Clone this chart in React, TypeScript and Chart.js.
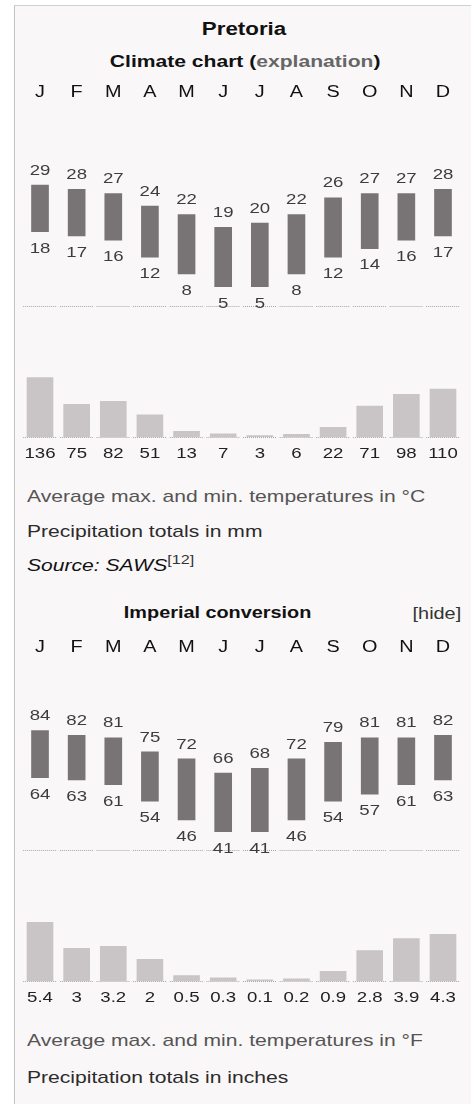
import React, { useEffect, useRef } from "react";
import { Chart, registerables } from "chart.js";

Chart.register(...registerables);

// ---------------- Data ----------------
const MONTHS = ["J", "F", "M", "A", "M", "J", "J", "A", "S", "O", "N", "D"];
const MAX_C = [29, 28, 27, 24, 22, 19, 20, 22, 26, 27, 27, 28];
const MIN_C = [18, 17, 16, 12, 8, 5, 5, 8, 12, 14, 16, 17];
const PRECIP_MM = [136, 75, 82, 51, 13, 7, 3, 6, 22, 71, 98, 110];
const MAX_F = [84, 82, 81, 75, 72, 66, 68, 72, 79, 81, 81, 82];
const MIN_F = [64, 63, 61, 54, 46, 41, 41, 46, 54, 57, 61, 63];
const PRECIP_IN = [5.4, 3, 3.2, 2, 0.5, 0.3, 0.1, 0.2, 0.9, 2.8, 3.9, 4.3];

// ---------------- Style / layout ----------------
const W = 471;
const H_PAGE = 1104;
const PLOT_LEFT = 21.7;
const PLOT_RIGHT = 461.3;
const SX = 1.24; // horizontal text stretch of the reference
const FONT = '"Liberation Sans", Arial, Helvetica, sans-serif';
const TEMP_BAR = "#787374";
const PRECIP_BAR = "#c9c5c6";
const DOT_COLOR = "#a6a6a6";
const TEMP_LABEL = "#3d3d3d";
const PRECIP_LABEL = "#222222";

function stretchedText(
  ctx: CanvasRenderingContext2D,
  text: string,
  x: number,
  cy: number,
  size: number,
  color: string,
  weight = "normal"
) {
  ctx.save();
  ctx.font = `${weight} ${size}px ${FONT}`;
  ctx.fillStyle = color;
  ctx.textAlign = "center";
  ctx.textBaseline = "alphabetic";
  ctx.translate(x, cy + 0.358 * size);
  ctx.scale(SX, 1);
  ctx.fillText(text, 0, 0);
  ctx.restore();
}

function dottedBase(chart: any) {
  const { ctx, chartArea } = chart;
  const n = MONTHS.length;
  const w = (chartArea.right - chartArea.left) / n;
  const y = Math.round(chartArea.bottom) + 0.5;
  ctx.save();
  ctx.strokeStyle = DOT_COLOR;
  ctx.lineWidth = 1;
  ctx.setLineDash([1, 1]);
  for (let i = 0; i < n; i++) {
    const x0 = chartArea.left + i * w + 1.5;
    const x1 = chartArea.left + (i + 1) * w - 1.5;
    ctx.beginPath();
    ctx.moveTo(x0, y);
    ctx.lineTo(x1, y);
    ctx.stroke();
  }
  ctx.restore();
}

type TempSpec = {
  canvasTop: number;
  height: number;
  areaTop: number;
  areaBottom: number;
  refValue: number;
  refY: number;
  pxPerUnit: number;
  monthY: number;
  max: number[];
  min: number[];
};

function TempChart(p: TempSpec) {
  const ref = useRef<HTMLCanvasElement>(null);
  useEffect(() => {
    const canvas = ref.current!;
    const yMax = p.refValue + (p.refY - p.areaTop) / p.pxPerUnit;
    const yMin = p.refValue - (p.areaBottom - p.refY) / p.pxPerUnit;
    const plugin = {
      id: "tempLabels",
      beforeDatasetsDraw(chart: any) {
        dottedBase(chart);
      },
      afterDatasetsDraw(chart: any) {
        const ctx = chart.ctx;
        const xs = chart.scales.x;
        const ys = chart.scales.y;
        MONTHS.forEach((m, i) => {
          const x = xs.getPixelForValue(i);
          stretchedText(ctx, m, x, p.monthY - p.canvasTop, 16, "#111111");
          stretchedText(ctx, String(p.max[i]), x, ys.getPixelForValue(p.max[i]) - 15.7, 15, TEMP_LABEL);
          stretchedText(ctx, String(p.min[i]), x, ys.getPixelForValue(p.min[i]) + 15.5, 15, TEMP_LABEL);
        });
      },
    };
    const chart = new Chart(canvas, {
      type: "bar",
      data: {
        labels: MONTHS,
        datasets: [
          {
            data: p.max.map((v, i) => [p.min[i], v]) as any,
            backgroundColor: TEMP_BAR,
            barThickness: 17,
            borderWidth: 0,
            borderSkipped: false,
          },
        ],
      },
      options: {
        animation: false,
        responsive: false,
        events: [],
        layout: {
          padding: {
            left: PLOT_LEFT,
            right: W - PLOT_RIGHT,
            top: p.areaTop - p.canvasTop,
            bottom: p.canvasTop + p.height - p.areaBottom,
          },
        },
        plugins: { legend: { display: false }, tooltip: { enabled: false } },
        scales: {
          x: { display: false, offset: true },
          y: { display: false, min: yMin, max: yMax, bounds: "data" },
        },
      },
      plugins: [plugin],
    });
    return () => chart.destroy();
  }, []);
  return (
    <canvas
      ref={ref}
      width={W}
      height={p.height}
      style={{ position: "absolute", left: 0, top: p.canvasTop, width: W, height: p.height }}
    />
  );
}

type PrecipSpec = {
  canvasTop: number;
  height: number;
  areaTop: number;
  areaBottom: number;
  pxPerUnit: number;
  values: number[];
  labelOffset: number;
};

function PrecipChart(p: PrecipSpec) {
  const ref = useRef<HTMLCanvasElement>(null);
  useEffect(() => {
    const canvas = ref.current!;
    const yMax = (p.areaBottom - p.areaTop) / p.pxPerUnit;
    const plugin = {
      id: "precipLabels",
      beforeDatasetsDraw(chart: any) {
        dottedBase(chart);
      },
      afterDatasetsDraw(chart: any) {
        const ctx = chart.ctx;
        const xs = chart.scales.x;
        const ys = chart.scales.y;
        p.values.forEach((v, i) => {
          const x = xs.getPixelForValue(i);
          stretchedText(ctx, String(v), x, ys.getPixelForValue(0) + p.labelOffset, 15, PRECIP_LABEL);
        });
      },
    };
    const chart = new Chart(canvas, {
      type: "bar",
      data: {
        labels: MONTHS,
        datasets: [
          {
            data: p.values,
            backgroundColor: PRECIP_BAR,
            barThickness: 26,
            borderWidth: 0,
          },
        ],
      },
      options: {
        animation: false,
        responsive: false,
        events: [],
        layout: {
          padding: {
            left: PLOT_LEFT,
            right: W - PLOT_RIGHT,
            top: p.areaTop - p.canvasTop,
            bottom: p.canvasTop + p.height - p.areaBottom,
          },
        },
        plugins: { legend: { display: false }, tooltip: { enabled: false } },
        scales: {
          x: { display: false, offset: true },
          y: { display: false, min: 0, max: yMax, bounds: "data" },
        },
      },
      plugins: [plugin],
    });
    return () => chart.destroy();
  }, []);
  return (
    <canvas
      ref={ref}
      width={W}
      height={p.height}
      style={{ position: "absolute", left: 0, top: p.canvasTop, width: W, height: p.height }}
    />
  );
}

function Txt(props: {
  x: number;
  cy: number;
  size: number;
  align?: "left" | "center" | "right";
  weight?: number;
  italic?: boolean;
  color?: string;
  children: React.ReactNode;
}) {
  const { x, cy, size, align = "left", weight = 400, italic = false, color = "#202122" } = props;
  const style: React.CSSProperties = {
    position: "absolute",
    top: cy - 0.4885 * size,
    whiteSpace: "nowrap",
    fontSize: size,
    lineHeight: `${size}px`,
    fontWeight: weight,
    fontStyle: italic ? "italic" : "normal",
    color,
  };
  if (align === "center") {
    style.left = x - 250;
    style.width = 500;
    style.textAlign = "center";
  } else if (align === "right") {
    style.right = W - x;
    style.textAlign = "right";
  } else {
    style.left = x;
  }
  const origin = align === "center" ? "50% 50%" : align === "right" ? "100% 50%" : "0 50%";
  return (
    <div style={style}>
      <span style={{ display: "inline-block", transform: `scaleX(${SX})`, transformOrigin: origin }}>
        {props.children}
      </span>
    </div>
  );
}

export default function App() {
  return (
    <div
      style={{
        position: "absolute",
        left: 0,
        top: 0,
        width: W,
        height: H_PAGE,
        overflow: "hidden",
        background: "#ffffff",
        fontFamily: FONT,
      }}
    >
      <div
        style={{
          position: "absolute",
          left: 14,
          top: 5,
          width: W,
          height: H_PAGE,
          background: "#faf7f8",
          borderLeft: "1px solid #c2c2c2",
          borderTop: "1px solid #d0d0d0",
        }}
      />
      <Txt x={244} cy={28.5} size={18} align="center" weight={700} color="#111">
        Pretoria
      </Txt>
      <Txt x={245} cy={61} size={17} align="center" weight={700} color="#111">
        Climate chart (<span style={{ color: "#666666" }}>explanation</span>)
      </Txt>

      <TempChart
        canvasTop={70}
        height={250}
        areaTop={100}
        areaBottom={306}
        refValue={29}
        refY={185}
        pxPerUnit={4.24}
        monthY={91}
        max={MAX_C}
        min={MIN_C}
      />
      <PrecipChart
        canvasTop={320}
        height={150}
        areaTop={340}
        areaBottom={437}
        pxPerUnit={0.436}
        values={PRECIP_MM}
        labelOffset={15.5}
      />

      <Txt x={27} cy={496.5} size={17} color="#555555">
        Average max. and min. temperatures in °C
      </Txt>
      <Txt x={27} cy={531} size={17} color="#2b2b2b">
        Precipitation totals in mm
      </Txt>
      <Txt x={27} cy={565} size={17} italic color="#111">
        Source: SAWS
        <span style={{ fontSize: 13, fontStyle: "normal", position: "relative", top: -7, color: "#333" }}>[12]</span>
      </Txt>

      <Txt x={217.5} cy={613} size={16} align="center" weight={700} color="#111">
        Imperial conversion
      </Txt>
      <Txt x={461} cy={614} size={16} align="right" color="#333">
        [hide]
      </Txt>

      <TempChart
        canvasTop={625}
        height={245}
        areaTop={660}
        areaBottom={850}
        refValue={84}
        refY={730.7}
        pxPerUnit={2.349}
        monthY={646}
        max={MAX_F}
        min={MIN_F}
      />
      <PrecipChart
        canvasTop={870}
        height={145}
        areaTop={890}
        areaBottom={981}
        pxPerUnit={10.85}
        values={PRECIP_IN}
        labelOffset={16}
      />

      <Txt x={27} cy={1040.5} size={17} color="#555555">
        Average max. and min. temperatures in °F
      </Txt>
      <Txt x={27} cy={1077.5} size={17} color="#2b2b2b">
        Precipitation totals in inches
      </Txt>
    </div>
  );
}
